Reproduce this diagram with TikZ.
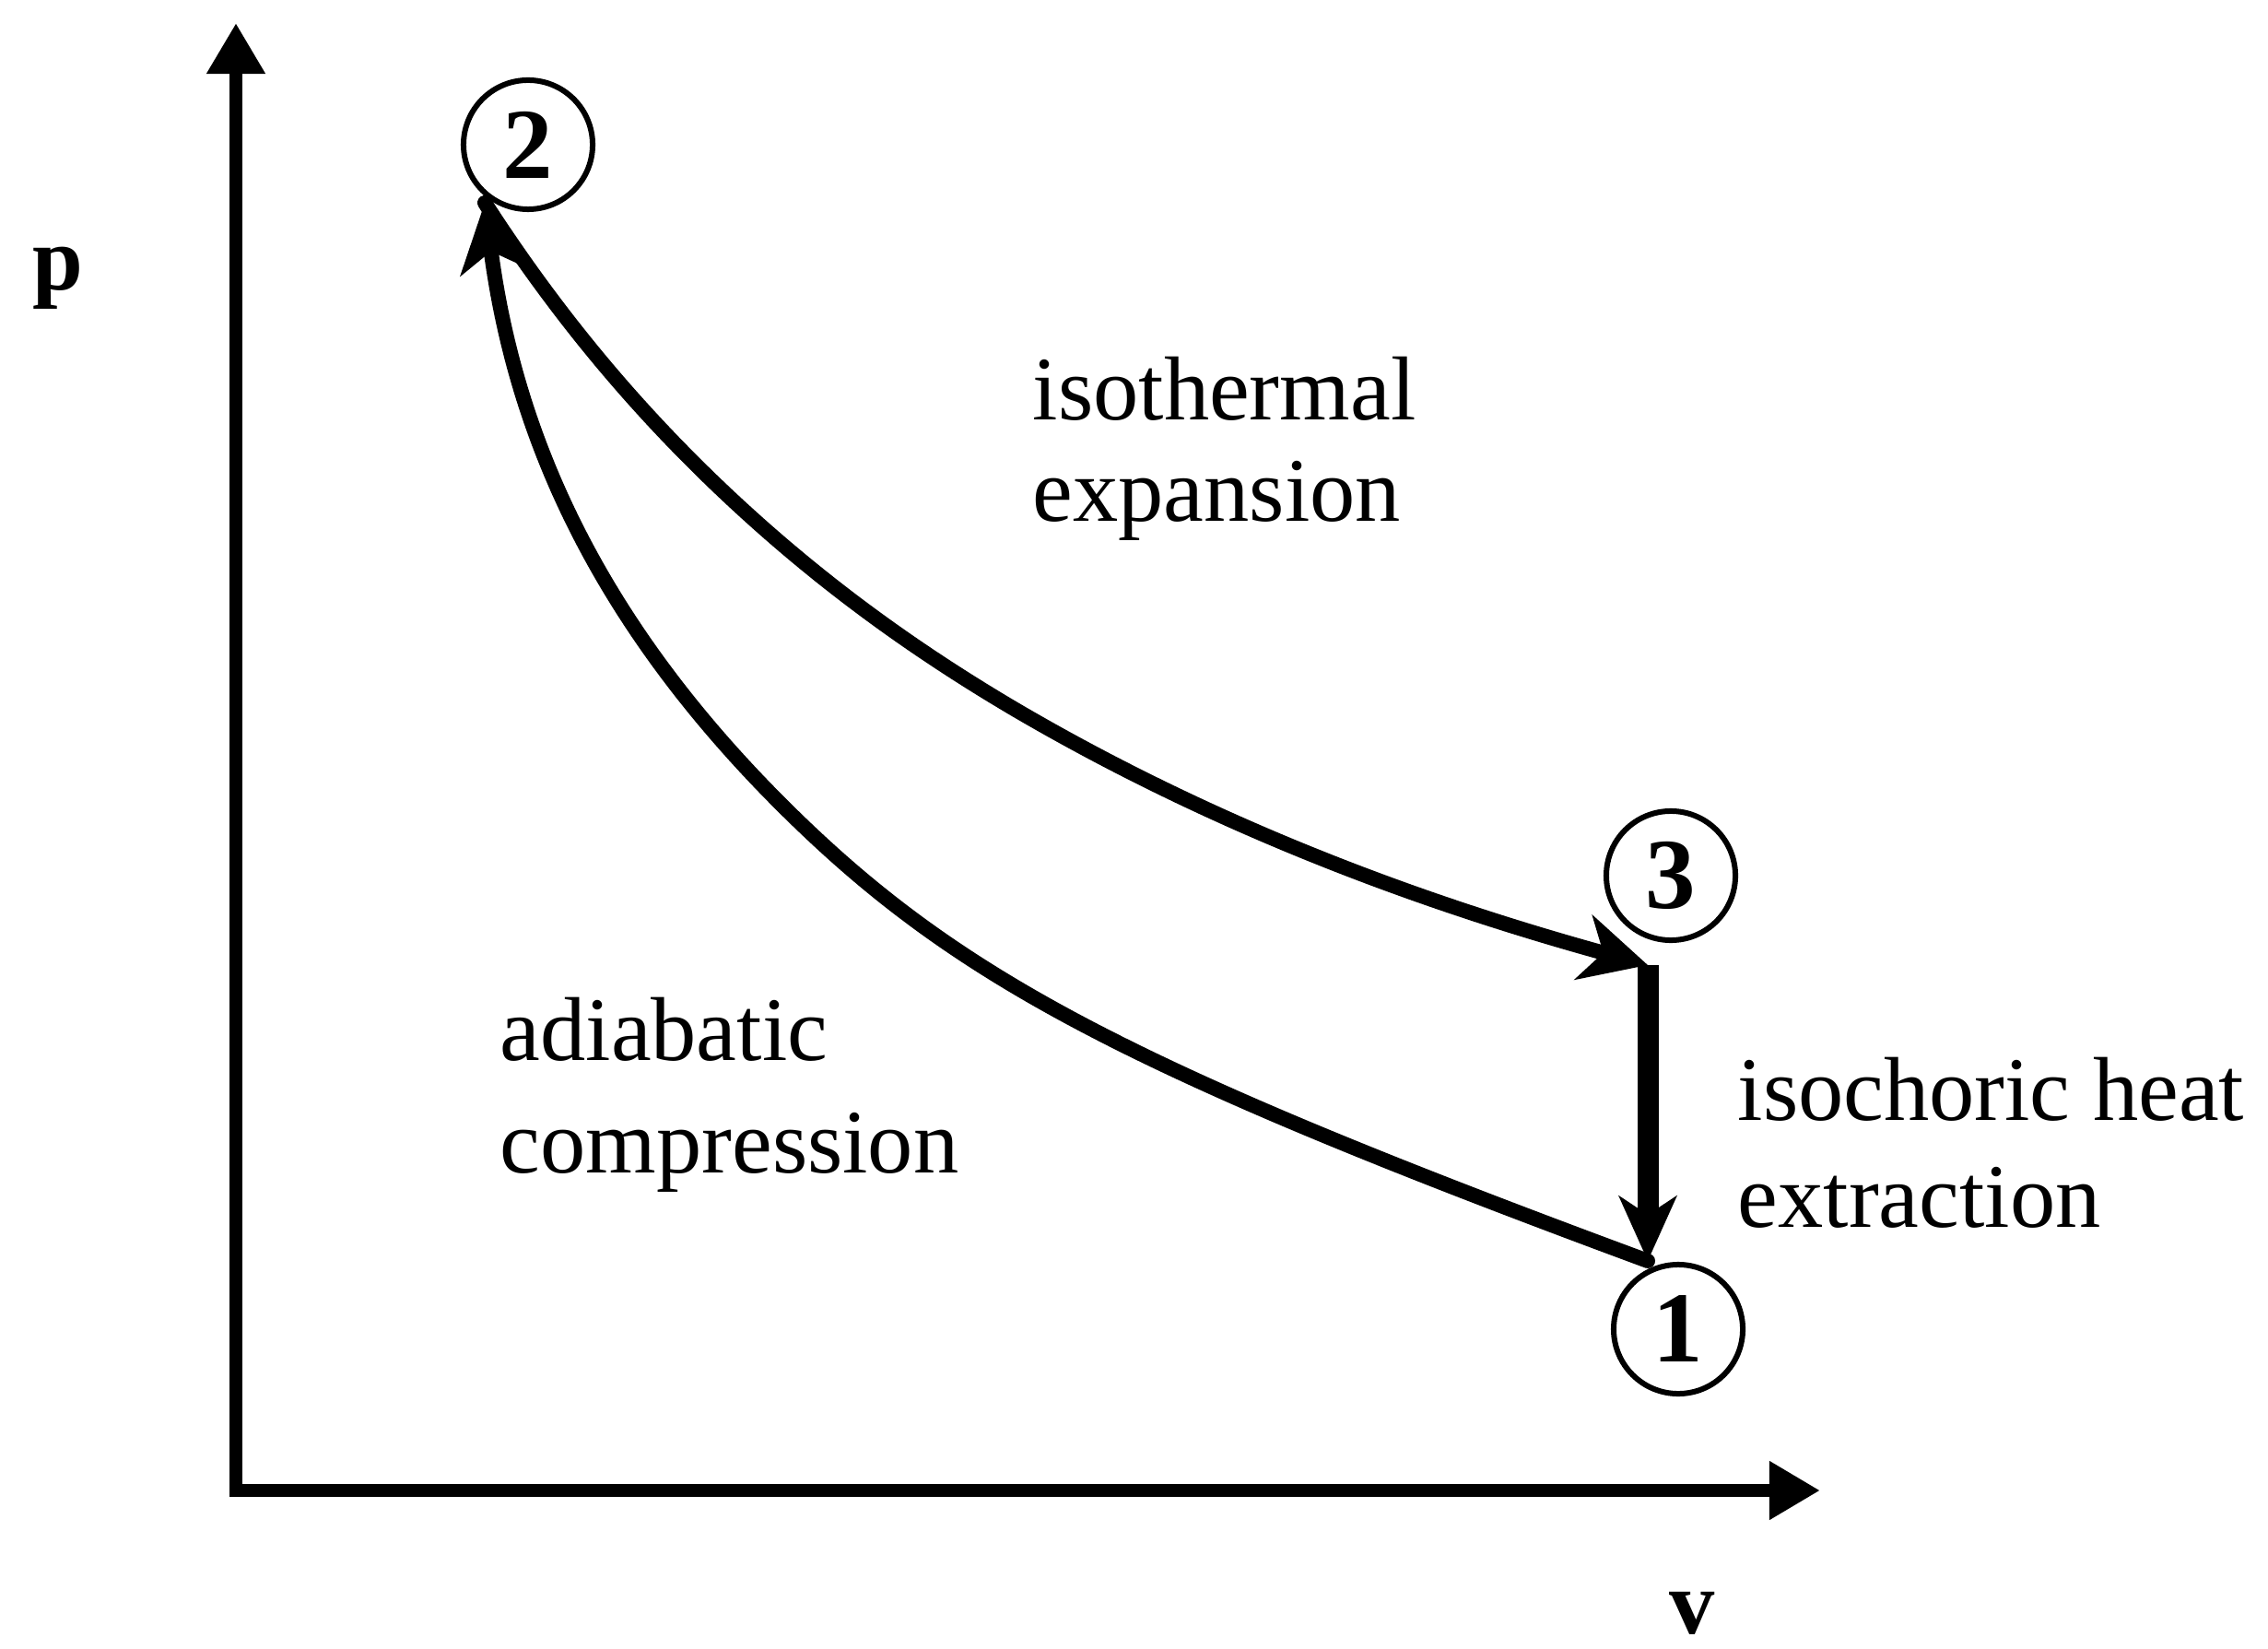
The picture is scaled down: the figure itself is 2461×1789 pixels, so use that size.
\documentclass[tikz,border=0pt]{standalone}
\usepackage{fontspec}
\setmainfont{Liberation Serif}
\usetikzlibrary{arrows.meta,positioning}

\begin{document}
\begin{tikzpicture}[x=0.01cm,y=-0.01cm]
  \tikzstyle{axis}=[line width=0.14cm,line join=miter]
  \tikzstyle{process}=[line width=0.16cm,line cap=round]
  \tikzstyle{state}=[circle,draw,line width=0.06cm,minimum size=1.4cm,inner sep=0pt,font=\fontsize{31}{35}\selectfont\bfseries]
  \tikzstyle{lbl}=[anchor=north west,inner sep=0pt,align=left,font=\fontsize{28}{33}\selectfont]
  \tikzstyle{axlbl}=[anchor=base west,inner sep=0pt,font=\fontsize{28}{33}\selectfont\bfseries]
  \useasboundingbox (0,0) rectangle (2461,1789);
  % axes
  \coordinate (O) at (256,1617);
  \coordinate (ytip) at (256,25);
  \coordinate (xtip) at (1975,1617);
  \draw[axis,{Triangle[length=0.55cm,width=0.6cm]}-{Triangle[length=0.55cm,width=0.6cm]}] (ytip) -- (O) -- (xtip);
  \node[axlbl] (plabel) at (35,315) {p};
  \node[axlbl] (vlabel) at (1811,1772) {v};
  % states
  \coordinate (p1) at (1788,1368);
  \coordinate (p2) at (526,220);
  \coordinate (p3) at (1788,1047);
  \node[state] (c1) at (1821,1442) {1};
  \node[state] (c2) at (573,157) {2};
  \node[state] (c3) at (1813,950) {3};
  % processes
  \draw[process,-{Stealth[length=0.72cm,width=0.72cm,inset=0.22cm]}] (p2) .. controls (606,344) and (687,438) .. (767,516)
    .. controls (879,625) and (990,704) .. (1102,770)
    .. controls (1331,904) and (1559,984) .. (p3);
  \draw[line width=0.23cm,-{Stealth[length=0.7cm,width=0.62cm,inset=0.2cm]}] (p3) -- (p1);
  \draw[process,-{Stealth[length=0.75cm,width=0.72cm,inset=0.22cm]}] (p1) .. controls (1223,1159) and (1035,1060) .. (847,872)
    .. controls (657,682) and (560,484) .. (p2);
  % labels
  \node[lbl] (isoth) at (1120,386) {isothermal\\[-0.06cm]expansion};
  \node[lbl] (adiab) at (542,1081) {adiabatic\\[0.06cm]compression};
  \node[lbl] (isoch) at (1885,1146) {isochoric heat\\extraction};
\end{tikzpicture}
\end{document}
